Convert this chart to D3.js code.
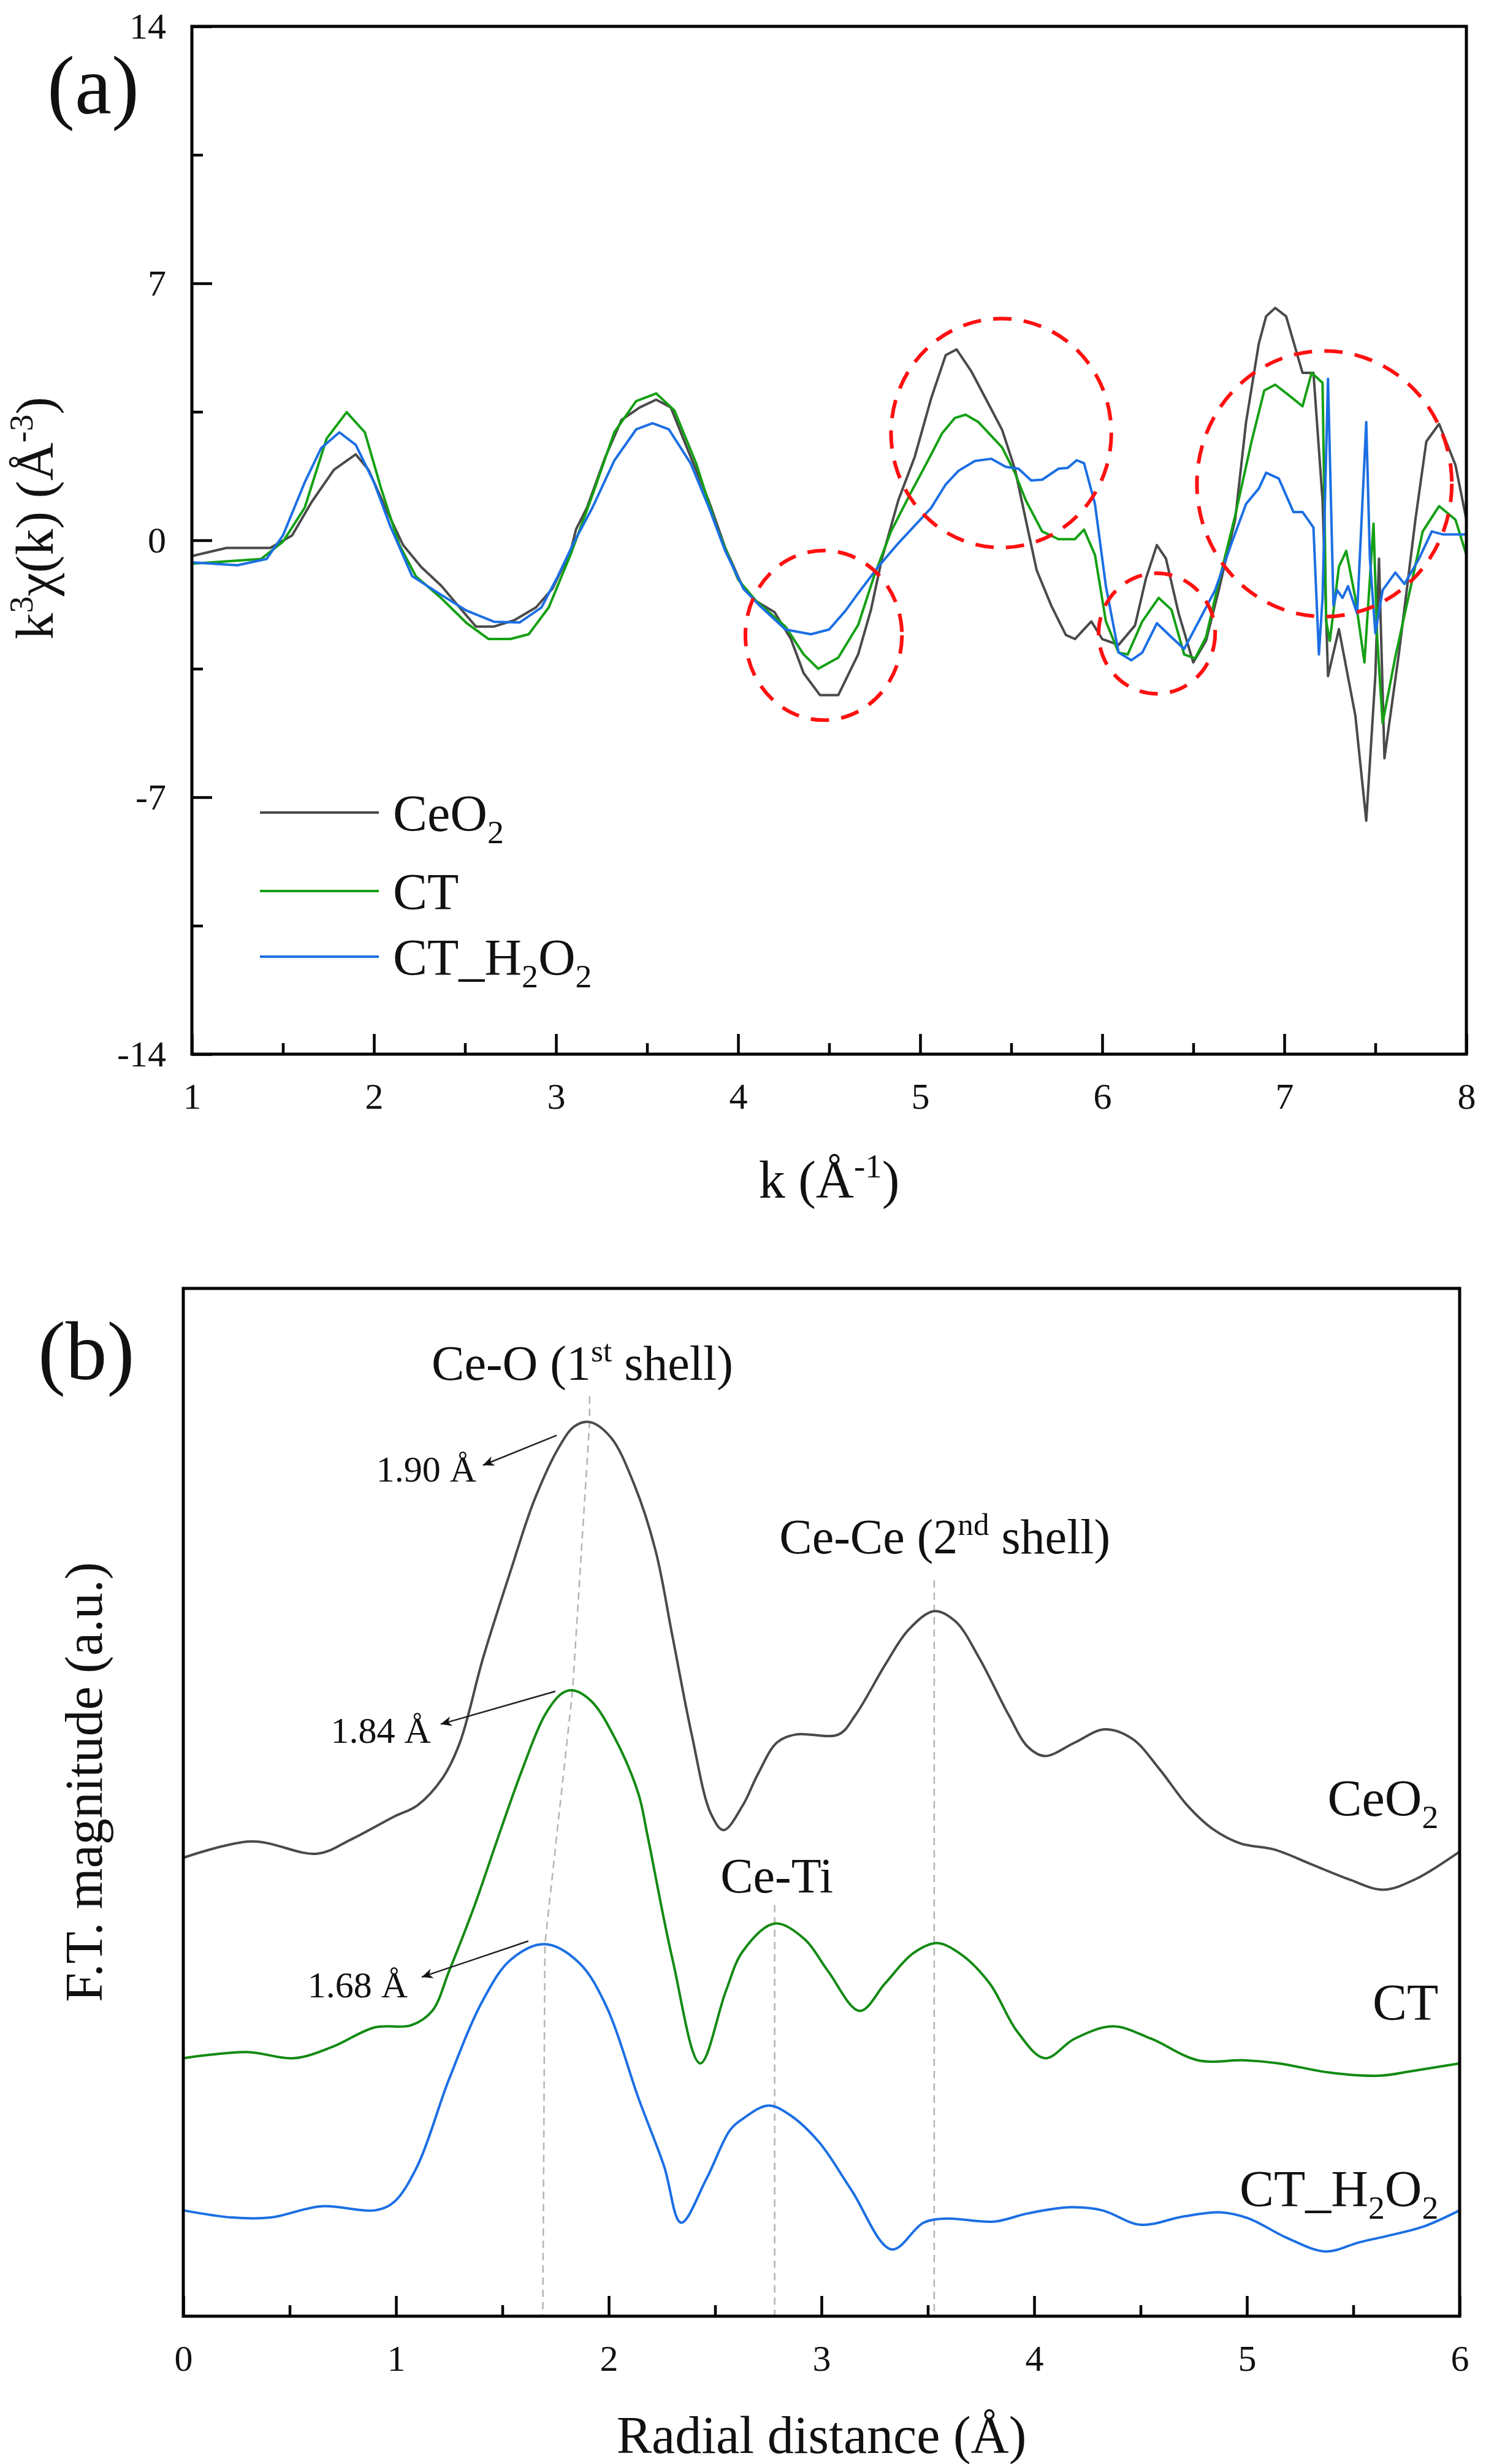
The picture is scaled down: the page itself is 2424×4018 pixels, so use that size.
<!DOCTYPE html>
<html>
<head>
<meta charset="utf-8">
<script src="https://cdn.jsdelivr.net/npm/d3@7"></script>
<style>
body { margin: 0; background: #fff; }
text { font-family: "Liberation Serif", "Times New Roman", serif; fill: #111; }
</style>
</head>
<body>
<svg id="fig"></svg>
<script>
// ---------- PANEL (a) DATA : k^3 chi(k) ----------
var seriesNames = ["CeO2", "CT", "CT_H2O2"];

var ceo2K = [1.00,1.19,1.43,1.55,1.66,1.78,1.90,1.97,2.07,2.16,2.26,2.37,2.47,2.56,2.66,2.77,2.89,2.98,3.08,3.11,3.17,3.27,3.36,3.46,3.55,3.63,3.72,3.84,3.93,4.03,4.10,4.20,4.29,4.36,4.45,4.55,4.66,4.73,4.79,4.88,4.97,5.06,5.14,5.20,5.28,5.36,5.45,5.52,5.58,5.64,5.72,5.80,5.85,5.94,6.00,6.09,6.18,6.24,6.30,6.35,6.42,6.50,6.57,6.64,6.73,6.79,6.86,6.90,6.95,7.01,7.10,7.16,7.21,7.24,7.30,7.39,7.45,7.50,7.52,7.55,7.63,7.72,7.78,7.85,7.94,8.00];
var ceo2Chi = [-0.43,-0.21,-0.21,0.13,1.06,1.92,2.34,1.92,0.81,-0.13,-0.73,-1.24,-1.83,-2.35,-2.35,-2.18,-1.83,-1.32,-0.30,0.30,0.89,2.26,3.28,3.62,3.83,3.62,2.51,1.06,-0.21,-1.32,-1.66,-1.96,-2.69,-3.62,-4.22,-4.22,-3.10,-1.89,-0.50,1.09,2.27,3.86,5.04,5.20,4.61,3.86,3.01,1.95,0.56,-0.82,-1.78,-2.58,-2.69,-2.21,-2.69,-2.85,-2.32,-1.04,-0.13,-0.50,-2.00,-3.33,-2.74,-1.36,0.56,3.22,5.36,6.10,6.33,6.10,4.56,4.56,1.09,-3.70,-2.42,-4.77,-7.64,-3.70,-0.50,-5.94,-3.06,0.56,2.69,3.17,2.05,0.56];

var ctK = [1.00,1.38,1.50,1.62,1.74,1.85,1.95,2.04,2.14,2.23,2.37,2.51,2.63,2.75,2.85,2.96,3.08,3.20,3.32,3.44,3.55,3.65,3.77,3.88,4.00,4.10,4.26,4.36,4.44,4.55,4.66,4.75,4.84,4.95,5.03,5.12,5.19,5.25,5.32,5.45,5.52,5.58,5.67,5.76,5.85,5.90,5.96,6.02,6.09,6.14,6.22,6.31,6.38,6.45,6.51,6.57,6.64,6.73,6.82,6.89,6.95,7.02,7.10,7.15,7.21,7.23,7.25,7.30,7.34,7.39,7.44,7.49,7.51,7.54,7.61,7.70,7.76,7.85,7.94,8.00];
var ctChi = [-0.64,-0.51,-0.04,0.89,2.77,3.49,2.94,1.40,-0.13,-0.98,-1.58,-2.26,-2.69,-2.69,-2.56,-1.83,-0.39,1.23,2.94,3.79,4.00,3.54,2.09,0.38,-1.07,-1.66,-2.35,-3.11,-3.50,-3.20,-2.30,-0.93,0.24,1.31,2.05,2.91,3.33,3.42,3.22,2.53,1.84,1.09,0.24,0.03,0.03,0.29,-0.40,-2.21,-3.06,-3.11,-2.21,-1.57,-1.89,-3.11,-3.22,-2.64,-1.14,0.67,2.69,4.08,4.24,3.97,3.65,4.56,4.29,-2.21,-2.74,-0.72,-0.29,-1.57,-3.33,0.45,-2.64,-4.98,-3.17,-1.14,0.24,0.93,0.56,-0.40];

var h2o2K = [1.00,1.25,1.41,1.50,1.62,1.71,1.81,1.90,2.00,2.09,2.21,2.37,2.51,2.66,2.80,2.92,3.01,3.10,3.20,3.32,3.44,3.53,3.62,3.74,3.84,3.93,4.03,4.12,4.26,4.40,4.50,4.59,4.66,4.77,4.88,4.97,5.06,5.14,5.21,5.30,5.39,5.47,5.54,5.61,5.67,5.76,5.81,5.86,5.90,5.96,6.02,6.09,6.16,6.22,6.30,6.38,6.45,6.53,6.62,6.71,6.79,6.86,6.90,6.97,7.05,7.10,7.16,7.19,7.21,7.24,7.27,7.29,7.32,7.35,7.40,7.45,7.47,7.50,7.54,7.61,7.66,7.74,7.81,7.87,8.00];
var h2o2Chi = [-0.60,-0.68,-0.51,0.13,1.58,2.51,2.94,2.60,1.58,0.38,-0.98,-1.49,-1.92,-2.22,-2.24,-1.83,-0.98,-0.04,0.89,2.17,3.02,3.19,3.02,2.09,0.89,-0.30,-1.32,-1.79,-2.43,-2.56,-2.43,-1.92,-1.44,-0.72,-0.08,0.40,0.88,1.52,1.89,2.16,2.22,2.00,1.95,1.63,1.65,1.95,1.97,2.18,2.10,0.99,-1.25,-3.06,-3.27,-3.06,-2.26,-2.64,-2.96,-2.21,-1.36,-0.08,0.99,1.41,1.84,1.68,0.77,0.77,0.35,-3.11,-1.57,4.40,-1.78,-1.36,-1.57,-1.25,-2.00,3.22,-0.50,-2.53,-1.36,-0.88,-1.19,-0.50,0.24,0.16,0.16];

var kTicks = [1,2,3,4,5,6,7,8];
var kMinor = [1.5,2.5,3.5,4.5,5.5,6.5,7.5];
var chiTicks = [-14,-7,0,7,14];
var chiMinor = [-10.5,-3.5,3.5,10.5];

// red dashed circles (centre k, centre value, radius in k, radius in value)
var circK = [4.47, 5.445, 6.30, 7.22];
var circV = [-2.59, 2.92, -2.54, 1.54];
var circRK = [0.43, 0.605, 0.32, 0.70];
var circRV = [2.31, 3.12, 1.64, 3.62];

// ---------- PANEL (b) DATA : FT magnitude ----------
var rCeO2 = [0.00,0.32,0.63,0.79,0.99,1.10,1.22,1.30,1.41,1.54,1.65,1.77,1.84,1.91,2.01,2.12,2.22,2.30,2.39,2.48,2.54,2.63,2.70,2.79,2.88,3.08,3.16,3.30,3.41,3.53,3.63,3.74,3.88,3.97,4.05,4.19,4.33,4.46,4.59,4.72,4.84,4.97,5.13,5.30,5.48,5.64,5.79,6.00];
var ftCeO2 = [4.46,4.62,4.50,4.64,4.86,4.97,5.24,5.58,6.41,7.26,7.94,8.47,8.66,8.70,8.55,8.09,7.45,6.61,5.66,4.89,4.73,4.97,5.27,5.58,5.66,5.66,5.85,6.34,6.68,6.86,6.76,6.41,5.85,5.54,5.45,5.58,5.71,5.62,5.32,4.97,4.74,4.60,4.54,4.40,4.25,4.15,4.25,4.52];

var rCT = [0.00,0.30,0.52,0.70,0.90,1.07,1.17,1.25,1.37,1.47,1.59,1.70,1.78,1.83,1.92,2.03,2.14,2.18,2.30,2.43,2.55,2.63,2.78,2.92,3.03,3.18,3.30,3.43,3.54,3.65,3.79,3.92,4.05,4.19,4.37,4.55,4.77,4.99,5.15,5.39,5.62,5.79,6.00];
var ftCT = [2.51,2.57,2.51,2.62,2.81,2.83,2.97,3.36,4.00,4.60,5.30,5.85,6.06,6.09,5.98,5.62,5.08,4.70,3.47,2.46,3.16,3.55,3.82,3.67,3.36,2.97,3.24,3.53,3.63,3.53,3.24,2.77,2.51,2.70,2.82,2.70,2.49,2.49,2.46,2.37,2.34,2.39,2.46];

var rH2O2 = [0.00,0.23,0.41,0.65,0.90,0.99,1.10,1.25,1.41,1.54,1.70,1.86,1.99,2.14,2.26,2.34,2.46,2.57,2.63,2.75,2.85,2.99,3.14,3.33,3.48,3.59,3.81,3.97,4.17,4.32,4.50,4.70,4.88,5.01,5.19,5.37,5.53,5.70,5.84,6.00];
var ftH2O2 = [1.03,0.96,0.96,1.07,1.03,1.11,1.46,2.31,3.08,3.47,3.62,3.44,3.01,2.12,1.46,0.91,1.34,1.81,1.92,2.05,1.96,1.69,1.23,0.65,0.91,0.95,0.92,1.00,1.06,1.03,0.89,0.97,1.01,0.95,0.76,0.63,0.72,0.80,0.88,1.03];

var rTicks = [0,1,2,3,4,5,6];
var rMinor = [0.5,1.5,2.5,3.5,4.5,5.5];

// peak annotations
var peakText = ["1.90 Å", "1.84 Å", "1.68 Å"];
var peakTextR = [1.378, 1.164, 1.055];
var peakTextV = [8.12, 5.58, 3.10];
var arrowFromR = [1.755, 1.749, 1.622];
var arrowFromV = [8.57, 6.08, 3.65];
var arrowToR = [1.409, 1.210, 1.121];
var arrowToV = [8.28, 5.76, 3.30];

var shellR = [1.876, 3.58, 2.79];
var shellV = [9.11, 7.42, 4.12];

var guideOR = [1.91, 1.91, 1.83, 1.70, 1.69];
var guideOV = [8.95, 8.70, 6.09, 3.62, 0];
var guideTiR = [2.78, 2.78];
var guideTiV = [4.0, 0];
var guideCeR = [3.53, 3.53];
var guideCeV = [7.16, 0];

var seriesLabelV = [4.87, 2.88, 1.07];

// ---------- STYLE ----------
var topColors = ["#4a4a4a", "#14a014", "#1b6fe3"];
var botColors = ["#4a4a4a", "#138a13", "#1b6fe3"];

// rich text helper (sup / sub)
function rich(sel, parts, fs) {
	var shift = 0;
	parts.forEach(function(p) {
		var t = sel.append("tspan").text(p[0]);
		var target = p[1] === "sup" ? -0.38 * fs : (p[1] === "sub" ? 0.24 * fs : 0);
		if (target !== shift) t.attr("dy", target - shift);
		shift = target;
		if (p[1] !== "n") t.attr("font-size", 0.64 * fs);
	});
}

var nameParts = [
	[["CeO", "n"], ["2", "sub"]],
	[["CT", "n"]],
	[["CT_H", "n"], ["2", "sub"], ["O", "n"], ["2", "sub"]]
];

var svg = d3.select("#fig")
	.attr("width", 2424)
	.attr("height", 4018);

svg.append("rect").attr("width", 2424).attr("height", 4018).attr("fill", "#fff");

var defs = svg.append("defs");
defs.append("marker")
	.attr("id", "arrow")
	.attr("viewBox", "0 0 10 10")
	.attr("refX", 10).attr("refY", 5)
	.attr("markerWidth", 26).attr("markerHeight", 18)
	.attr("markerUnits", "userSpaceOnUse")
	.attr("orient", "auto")
	.append("path")
	.attr("d", "M0,0.5 L10,5 L0,9.5 L3,5 Z")
	.attr("fill", "#111");

// ---------- AXES HELPER ----------
function drawFrame(x, y, xMaj, xMin, yMaj, yMin) {
	var x0 = x.range()[0], x1 = x.range()[1];
	var y0 = y.range()[0], y1 = y.range()[1];

	svg.append("g").attr("transform", "translate(0," + y0 + ")")
		.call(d3.axisBottom(x).tickValues(xMaj).tickSizeInner(-33).tickSizeOuter(0)
			.tickPadding(46).tickFormat(function(d) { return String(d); }));
	svg.append("g").attr("transform", "translate(0," + y0 + ")")
		.call(d3.axisBottom(x).tickValues(xMin).tickSizeInner(-18).tickSizeOuter(0).tickFormat(""));

	if (yMaj) {
		svg.append("g").attr("transform", "translate(" + x0 + ",0)")
			.call(d3.axisLeft(y).tickValues(yMaj).tickSizeInner(-33).tickSizeOuter(0)
				.tickPadding(42).tickFormat(function(d) { return String(d); }));
		svg.append("g").attr("transform", "translate(" + x0 + ",0)")
			.call(d3.axisLeft(y).tickValues(yMin).tickSizeInner(-18).tickSizeOuter(0).tickFormat(""));
	}

	svg.selectAll(".domain").remove();
	svg.selectAll(".tick line").attr("stroke", "#000").attr("stroke-width", 4.5);
	svg.selectAll(".tick text").attr("font-size", 60).attr("fill", "#111")
		.style("font-family", "'Liberation Serif', serif");

	svg.append("rect")
		.attr("x", x0).attr("y", y1)
		.attr("width", x1 - x0).attr("height", y0 - y1)
		.attr("fill", "none").attr("stroke", "#000").attr("stroke-width", 5);
}

// ---------- PANEL (a) ----------
var xA = d3.scaleLinear().domain([1, 8]).range([313, 2392]);
var yA = d3.scaleLinear().domain([-14, 14]).range([1719, 43]);

var topK = [ceo2K, ctK, h2o2K];
var topChi = [ceo2Chi, ctChi, h2o2Chi];

var lineA = d3.line()
	.x(function(d) { return xA(d[0]); })
	.y(function(d) { return yA(d[1]); });

topK.forEach(function(ks, i) {
	svg.append("path")
		.datum(d3.zip(ks, topChi[i]))
		.attr("d", lineA)
		.attr("fill", "none")
		.attr("stroke", topColors[i])
		.attr("stroke-width", 4)
		.attr("stroke-linejoin", "round");
});

// red dashed circles
svg.selectAll("ellipse.mark")
	.data(d3.range(circK.length))
	.enter()
	.append("ellipse")
	.attr("class", "mark")
	.attr("cx", function(i) { return xA(circK[i]); })
	.attr("cy", function(i) { return yA(circV[i]); })
	.attr("rx", function(i) { return xA(circK[i] + circRK[i]) - xA(circK[i]); })
	.attr("ry", function(i) { return yA(circV[i]) - yA(circV[i] + circRV[i]); })
	.attr("fill", "none")
	.attr("stroke", "#ff1010")
	.attr("stroke-width", 6)
	.attr("stroke-dasharray", "30 20");

drawFrame(xA, yA, kTicks, kMinor, chiTicks, chiMinor);

// legend
var legendY = [1325, 1453, 1560];
seriesNames.forEach(function(n, i) {
	svg.append("line")
		.attr("x1", 424).attr("x2", 618)
		.attr("y1", legendY[i]).attr("y2", legendY[i])
		.attr("stroke", topColors[i]).attr("stroke-width", 4);
	var t = svg.append("text")
		.attr("x", 641).attr("y", legendY[i] + 30)
		.attr("font-size", 84);
	rich(t, nameParts[i], 84);
});

// axis titles (a)
var ylabA = svg.append("text")
	.attr("transform", "translate(86,845) rotate(-90)")
	.attr("text-anchor", "middle")
	.attr("font-size", 86);
rich(ylabA, [["k", "n"], ["3", "sup"], ["χ(k) (Å", "n"], ["-3", "sup"], [")", "n"]], 86);

var xlabA = svg.append("text")
	.attr("x", xA(4.5)).attr("y", 1953)
	.attr("text-anchor", "middle")
	.attr("font-size", 86);
rich(xlabA, [["k (Å", "n"], ["-1", "sup"], [")", "n"]], 86);

svg.append("text").attr("x", 77).attr("y", 185).attr("font-size", 135).text("(a)");

// ---------- PANEL (b) ----------
var xB = d3.scaleLinear().domain([0, 6]).range([299, 2381]);
var yB = d3.scaleLinear().domain([0, 10]).range([3777, 2101]);

var guideLine = d3.line()
	.x(function(d) { return xB(d[0]); })
	.y(function(d) { return yB(d[1]); });

[[guideOR, guideOV], [guideTiR, guideTiV], [guideCeR, guideCeV]].forEach(function(g) {
	svg.append("path")
		.datum(d3.zip(g[0], g[1]))
		.attr("d", guideLine)
		.attr("fill", "none")
		.attr("stroke", "#b4b4b4")
		.attr("stroke-width", 2.5)
		.attr("stroke-dasharray", "12 8");
});

var botR = [rCeO2, rCT, rH2O2];
var botFt = [ftCeO2, ftCT, ftH2O2];

var lineB = d3.line()
	.curve(d3.curveCatmullRom.alpha(0.5))
	.x(function(d) { return xB(d[0]); })
	.y(function(d) { return yB(d[1]); });

botR.forEach(function(rs, i) {
	svg.append("path")
		.datum(d3.zip(rs, botFt[i]))
		.attr("d", lineB)
		.attr("fill", "none")
		.attr("stroke", botColors[i])
		.attr("stroke-width", 4);
});

drawFrame(xB, yB, rTicks, rMinor, null, null);

// series labels at right
seriesNames.forEach(function(n, i) {
	var t = svg.append("text")
		.attr("x", xB(5.9)).attr("y", yB(seriesLabelV[i]))
		.attr("text-anchor", "end")
		.attr("font-size", 84);
	rich(t, nameParts[i], 84);
});

// shell labels
var shellParts = [
	[["Ce-O (1", "n"], ["st", "sup"], [" shell)", "n"]],
	[["Ce-Ce (2", "n"], ["nd", "sup"], [" shell)", "n"]],
	[["Ce-Ti", "n"]]
];
shellParts.forEach(function(p, i) {
	var t = svg.append("text")
		.attr("x", xB(shellR[i])).attr("y", yB(shellV[i]))
		.attr("text-anchor", "middle")
		.attr("font-size", 80);
	rich(t, p, 80);
});

// peak arrows
peakText.forEach(function(s, i) {
	svg.append("line")
		.attr("x1", xB(arrowFromR[i])).attr("y1", yB(arrowFromV[i]))
		.attr("x2", xB(arrowToR[i])).attr("y2", yB(arrowToV[i]))
		.attr("stroke", "#222").attr("stroke-width", 2.5)
		.attr("marker-end", "url(#arrow)");
	svg.append("text")
		.attr("x", xB(peakTextR[i])).attr("y", yB(peakTextV[i]))
		.attr("text-anchor", "end")
		.attr("font-size", 60)
		.text(s);
});

// axis titles (b)
svg.append("text")
	.attr("transform", "translate(166,2906) rotate(-90)")
	.attr("text-anchor", "middle")
	.attr("font-size", 86)
	.text("F.T. magnitude (a.u.)");

svg.append("text")
	.attr("x", xB(3)).attr("y", 4000)
	.attr("text-anchor", "middle")
	.attr("font-size", 86)
	.text("Radial distance (Å)");

svg.append("text").attr("x", 62).attr("y", 2249).attr("font-size", 135).text("(b)");
</script>
</body>
</html>
